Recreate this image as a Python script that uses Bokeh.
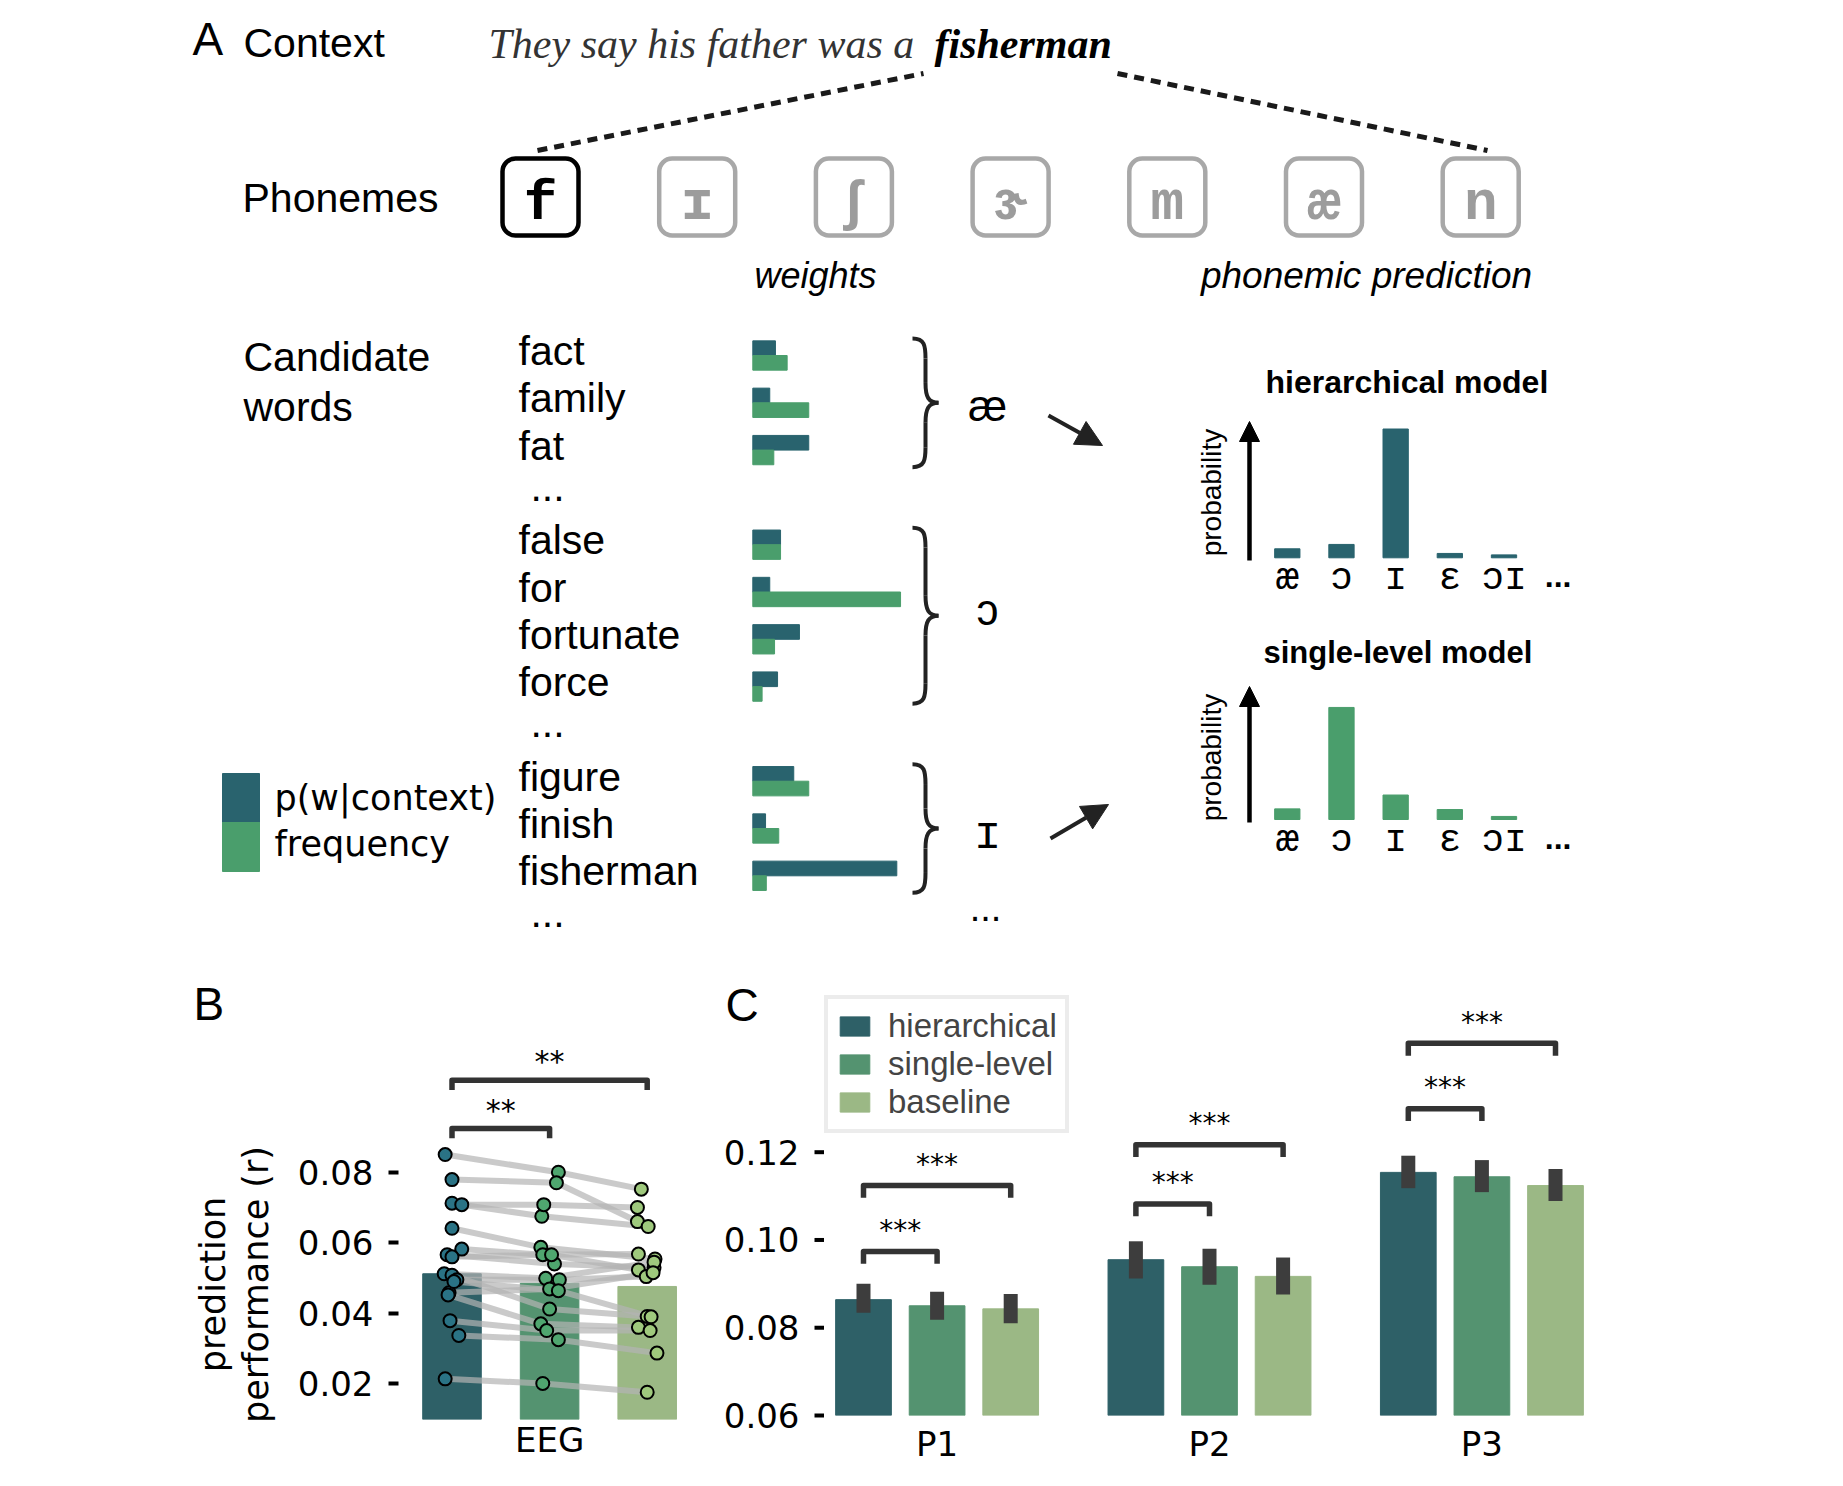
import math
from bokeh.plotting import figure
from bokeh.models import Range1d, Arrow, NormalHead, FixedTicker, PrintfTickFormatter
from bokeh.layouts import column, row
from bokeh.core.properties import value
from bokeh.embed import file_html
from bokeh.resources import INLINE

SANS = "Liberation Sans"
DV = "DejaVu Sans"
MONO = "Liberation Mono"
SERIF = "Liberation Serif"

# ---------------- data ----------------
sentence = "They say his father was a"
target_word = "fisherman"
phonemes = ["f", "ɪ", "ʃ", "ɝ", "m", "æ", "n"]
word_groups = [["fact", "family", "fat"],
               ["false", "for", "fortunate", "force"],
               ["figure", "finish", "fisherman"]]
group_phonemes = ["æ", "ɔ", "ɪ"]
w_context = [0.151, 0.113, 0.373, 0.185, 0.113, 0.311, 0.165, 0.273, 0.085, 0.960]
w_frequency = [0.229, 0.373, 0.140, 0.185, 0.985, 0.145, 0.062, 0.373, 0.173, 0.090]

pred_labels = ["æ", "ɔ", "ɪ", "ɛ", "ɔɪ"]
pred_hier = [0.056, 0.083, 0.800, 0.027, 0.018]
pred_single = [0.066, 0.696, 0.152, 0.062, 0.019]

models = ["hierarchical", "single-level", "baseline"]
eeg_means = [0.0512, 0.0485, 0.0476]
eeg_hier = [0.0850, 0.0779, 0.0712, 0.0708, 0.0641, 0.0582, 0.0566, 0.0560, 0.0512,
            0.0508, 0.0495, 0.0458, 0.0452, 0.0490, 0.0379, 0.0337, 0.0214]
eeg_single = [0.0800, 0.0770, 0.0675, 0.0708, 0.0587, 0.0566, 0.0540, 0.0566, 0.0499,
              0.0412, 0.0495, 0.0469, 0.0370, 0.0464, 0.0351, 0.0325, 0.0201]
eeg_base = [0.0752, 0.0660, 0.0646, 0.0700, 0.0554, 0.0568, 0.0530, 0.0523, 0.0545,
            0.0391, 0.0504, 0.0515, 0.0360, 0.0390, 0.0351, 0.0287, 0.0176]
jit_hier = [-0.07, 0.0, 0.0, 0.1, 0.0, 0.1, -0.05, 0.0, -0.08, 0.0, 0.05, -0.03, -0.04, 0.02, -0.02, 0.07, -0.07]
jit_single = [0.09, 0.07, -0.08, -0.06, -0.09, -0.07, 0.05, 0.02, -0.04, 0.0, 0.1, 0.0, -0.09, 0.09, -0.03, 0.09, -0.07]
jit_base = [-0.06, -0.1, 0.01, -0.1, 0.08, -0.09, 0.07, -0.09, 0.07, 0.0, -0.01, 0.06, -0.09, 0.04, 0.03, 0.1, 0.0]
eeg_sig_pairs = [(0, 1), (0, 2)]
eeg_sig_top = [0.0924, 0.1061]
eeg_sig_text = ["**", "**"]
eeg_ticks = [0.02, 0.04, 0.06, 0.08]

positions = ["P1", "P2", "P3"]
pos_hier = [0.0864, 0.0955, 0.1154]
pos_single = [0.0850, 0.0939, 0.1144]
pos_base = [0.0843, 0.0917, 0.1124]
pos_hier_lo = [0.0834, 0.0912, 0.1118]
pos_hier_hi = [0.0900, 0.0997, 0.1192]
pos_single_lo = [0.0818, 0.0898, 0.1109]
pos_single_hi = [0.0882, 0.0980, 0.1182]
pos_base_lo = [0.0810, 0.0876, 0.1089]
pos_base_hi = [0.0877, 0.0960, 0.1162]
pos_sig_top_single = [0.0974, 0.1082, 0.1299]
pos_sig_top_base = [0.1124, 0.1217, 0.1448]
pos_sig_text = "***"
pos_ticks = [0.06, 0.08, 0.10, 0.12]

# ---------------- colours ----------------
DARK = "#29636e"
GREEN = "#4a9e6c"
BAR_COL = ["#2e6067", "#549370", "#9bb885"]
PT_COL = ["#2a7385", "#4fa66f", "#9fc97d"]
GRAY_BOX = "#a8a8a8"
K = 0.35  # distance baseline -> middle of the em box, in em


def put(p, x, y, s, size, font=SANS, style="normal", align="left", base="middle",
        color="black", angle=0.0, **kw):
    xs = list(x) if isinstance(x, (list, tuple)) else [x]
    ys = list(y) if isinstance(y, (list, tuple)) else [y]
    ss = list(s) if isinstance(s, (list, tuple)) else [s]
    n = max(len(xs), len(ys), len(ss))
    xs = xs * n if len(xs) == 1 else xs
    ys = ys * n if len(ys) == 1 else ys
    ss = ss * n if len(ss) == 1 else ss
    return p.text(x=xs, y=ys, text=ss, text_font=value(font), text_font_size=value(size),
                  text_font_style=value(style), text_align=value(align),
                  text_baseline=value(base), text_color=color, angle=angle, **kw)


def putb(p, x, baseline, s, size, **kw):
    """place text by the page-pixel y of its baseline"""
    return put(p, x, baseline - K * size, s, f"{size}px", **kw)


def lin_range(v0, p0, v1, p1, a, b):
    s = (p1 - p0) / (v1 - v0)
    return Range1d(start=v0 + (a - p0) / s, end=v0 + (b - p0) / s)


def canvas(xa, xb, ya, yb):
    """plain drawing figure whose data coordinates are page pixels"""
    return figure(width=xb - xa, height=yb - ya, x_range=Range1d(xa, xb), y_range=Range1d(yb, ya),
                  x_axis_type=None, y_axis_type=None, toolbar_location=None,
                  output_backend="svg", min_border=0, outline_line_color=None)


# ================= Panel A =================
W, HA = 1835, 960
pA = canvas(0, W, 0, HA)
pA.extra_x_ranges = {
    "w": lin_range(0, 752.3, 1, 902.3, 0, W),
    "pidx": lin_range(0, 1286.8, 4, 1503.5, 0, W),
}
SLOT0, SLOTD = 355.0, 47.3
pA.extra_y_ranges = {
    "slot": lin_range(0, SLOT0, 1, SLOT0 + SLOTD, HA, 0),
    "ph": lin_range(0, 557.3, 1, 396.3, HA, 0),
    "ps": lin_range(0, 819, 1, 658, HA, 0),
}

putb(pA, 192, 55, "A", 46)
putb(pA, 243, 57, "Context", 41)
putb(pA, 488, 58, sentence, 42, font=SERIF, style="italic", color="#333333")
putb(pA, 934, 58, target_word, 42, font=SERIF, style="bold italic")
pA.line([537, 923], [150, 73], line_dash="10 7", line_width=5, line_color="#1a1a1a")
pA.line([1117, 1487], [73, 150], line_dash="10 7", line_width=5, line_color="#1a1a1a")

putb(pA, 242, 212, "Phonemes", 41)
box_x = [540 + i * 156.7 for i in range(len(phonemes))]
box_col = ["black"] + [GRAY_BOX] * (len(phonemes) - 1)
txt_col = ["black"] + ["#9c9c9c"] * (len(phonemes) - 1)
pA.rect(x=box_x, y=196.5, width=76, height=77, fill_color="white", line_color=box_col,
        line_width=4.5, border_radius=13)
pA.text(x=box_x, y=[203] * len(phonemes), text=phonemes, text_font=value(MONO),
        text_font_size=value("56px"), text_font_style=value("bold"), text_align=value("center"),
        text_baseline=value("middle"), text_color=txt_col)

putb(pA, 815, 288, "weights", 36, style="italic", align="center")
putb(pA, 1366, 288, "phonemic prediction", 37, style="italic", align="center")

putb(pA, 243, 371, "Candidate", 41)
putb(pA, 243, 421, "words", 41)

words, slots, dots = [], [], []
k = 0
for g in word_groups:
    for wd in g:
        words.append(wd)
        slots.append(k)
        k += 1
    dots.append(k)
    k += 1

put(pA, 518, [s - 0.092 for s in slots], words, "41px", y_range_name="slot")
put(pA, 547, [d - 0.22 for d in dots], "...", "41px", align="center", y_range_name="slot")

pA.hbar(y=[s - 0.155 for s in slots], height=0.31, left=0, right=w_context,
        color=DARK, x_range_name="w", y_range_name="slot")
pA.hbar(y=[s + 0.155 for s in slots], height=0.31, left=0, right=w_frequency,
        color=GREEN, x_range_name="w", y_range_name="slot")

# braces
bx0, by0, bx1, by1, bc0x, bc0y, bc1x, bc1y = [], [], [], [], [], [], [], []
x0, x1, x2, r = 912, 925, 938, 0.42
gi = 0
brace_mid = []
for g in word_groups:
    top = slots[gi] - 0.36
    bot = slots[gi + len(g) - 1] + 0.36
    gi += len(g)
    mid = (top + bot) / 2
    brace_mid.append(mid)
    segs = [
        (x0, top, x1, top + r, x1 - 1, top, x1, top + 0.35 * r),
        (x1, top + r, x1, mid - r, x1, top + r, x1, mid - r),
        (x1, mid - r, x2, mid, x1, mid - 0.3 * r, x1 + 3, mid),
        (x2, mid, x1, mid + r, x1 + 3, mid, x1, mid + 0.3 * r),
        (x1, mid + r, x1, bot - r, x1, mid + r, x1, bot - r),
        (x1, bot - r, x0, bot, x1, bot - 0.35 * r, x1 - 1, bot),
    ]
    for sgm in segs:
        bx0.append(sgm[0]); by0.append(sgm[1]); bx1.append(sgm[2]); by1.append(sgm[3])
        bc0x.append(sgm[4]); bc0y.append(sgm[5]); bc1x.append(sgm[6]); bc1y.append(sgm[7])
pA.bezier(x0=bx0, y0=by0, x1=bx1, y1=by1, cx0=bc0x, cy0=bc0y, cx1=bc1x, cy1=bc1y,
          line_width=4, line_color="#222222", y_range_name="slot")

put(pA, 987, [brace_mid[0] + 0.05, brace_mid[1] - 0.12], group_phonemes[:2], "44px",
    align="center", y_range_name="slot")
put(pA, 987, brace_mid[2] + 0.15, group_phonemes[2], "46px", font=MONO, align="center",
    y_range_name="slot")
put(pA, 985, dots[-1] - 0.32, "...", "38px", align="center", y_range_name="slot")

for (xs_, ys_, xe_, ye_) in [(1048, 415, 1102, 445), (1050, 838, 1108, 804)]:
    pA.add_layout(Arrow(x_start=xs_, y_start=ys_, x_end=xe_, y_end=ye_, line_width=4,
                        line_color="#222222",
                        end=NormalHead(size=26, fill_color="#222222", line_color="#222222")))

# legend of the weights
pA.rect(x=240.5, y=797.5, width=37, height=49, color=DARK)
pA.rect(x=240.5, y=846.5, width=37, height=49, color=GREEN)
putb(pA, 274, 810, "p(w|context)", 35, font=DV)
putb(pA, 274, 856, "frequency", 35, font=DV)

# prediction mini charts
idx = list(range(len(pred_labels)))
putb(pA, 1265, 392.7, "hierarchical model", 32, style="bold")
putb(pA, 1263, 663, "single-level model", 31, style="bold")
pA.vbar(x=idx, top=pred_hier, bottom=0, width=0.467, color=DARK,
        x_range_name="pidx", y_range_name="ph")
pA.vbar(x=idx, top=pred_single, bottom=0, width=0.467, color=GREEN,
        x_range_name="pidx", y_range_name="ps")
for rng in ["ph", "ps"]:
    put(pA, idx, -0.129, pred_labels, "38px", font=MONO, align="center",
        x_range_name="pidx", y_range_name=rng)
    put(pA, len(pred_labels), -0.115, "...", "32px", style="bold", align="center",
        x_range_name="pidx", y_range_name=rng)
for (yb, yt, yc) in [(560, 421, 492), (822, 686, 757)]:
    pA.add_layout(Arrow(x_start=1249, y_start=yb, x_end=1249, y_end=yt, line_width=4.5,
                        line_color="black",
                        end=NormalHead(size=20, fill_color="black", line_color="black")))
    put(pA, 1211, yc, "probability", "28px", align="center", angle=math.pi / 2)


# ================= axes styling =================
def style_y(p, ticks):
    p.grid.visible = False
    p.yaxis.ticker = FixedTicker(ticks=ticks)
    p.yaxis.formatter = PrintfTickFormatter(format="%.2f")
    for ax in p.yaxis:
        ax.axis_line_color = None
        ax.major_tick_out = 10
        ax.major_tick_in = 0
        ax.major_tick_line_width = 4
        ax.major_tick_line_color = "black"
        ax.minor_tick_line_color = None
        ax.major_label_text_font = DV
        ax.major_label_text_font_size = "34px"
        ax.major_label_text_color = "black"
        ax.major_label_standoff = 15


def style_x(p, ticks, labels, standoff):
    p.grid.visible = False
    p.xaxis.ticker = FixedTicker(ticks=ticks)
    p.xaxis.major_label_overrides = {t: lab for t, lab in zip(ticks, labels)}
    for ax in p.xaxis:
        ax.axis_line_color = None
        ax.major_tick_line_color = None
        ax.minor_tick_line_color = None
        ax.major_tick_out = 0
        ax.major_tick_in = 0
        ax.major_label_standoff = standoff
        ax.major_label_text_font = DV
        ax.major_label_text_font_size = "34px"
        ax.major_label_text_color = "black"


ROW_TOP, ROW_BOT = HA, 1484
RH = ROW_BOT - ROW_TOP

# ================= Panel B =================
pBlab = canvas(0, 290, ROW_TOP, ROW_BOT)
putb(pBlab, 193, 1020, "B", 46)
put(pBlab, 212, 1284, "prediction", "35px", font=DV, align="center", angle=math.pi / 2)
put(pBlab, 255, 1284, "performance (r)", "35px", font=DV, align="center", angle=math.pi / 2)

B_FL, B_FR, B_FT, B_FB = 398, 700, 985, 1419
pB = figure(width=700 - 290, height=RH,
            x_range=lin_range(0, 451.5, 1, 549.1, B_FL, B_FR),
            y_range=lin_range(0.02, 1383.3, 0.08, 1171.7, B_FB, B_FT),
            toolbar_location=None, output_backend="svg", min_border_left=B_FL - 290,
            min_border_right=0, min_border_top=B_FT - ROW_TOP, min_border_bottom=ROW_BOT - B_FB,
            outline_line_color=None)
style_y(pB, eeg_ticks)
style_x(pB, [1], ["EEG"], 0)

pB.vbar(x=[0, 1, 2], top=eeg_means, bottom=0, width=0.6, color=BAR_COL)
subj_x = [[0 + a, 1 + b, 2 + c] for a, b, c in zip(jit_hier, jit_single, jit_base)]
subj_y = [[a, b, c] for a, b, c in zip(eeg_hier, eeg_single, eeg_base)]
pB.multi_line(xs=subj_x, ys=subj_y, line_color="#b4b4b4", line_alpha=0.7, line_width=6)
for m, (vals, jit) in enumerate([(eeg_hier, jit_hier), (eeg_single, jit_single), (eeg_base, jit_base)]):
    pB.scatter(x=[m + j for j in jit], y=vals, size=13, fill_color=PT_COL[m],
               line_color="black", line_width=2)
br_x, br_y = [], []
for (a, b), top in zip(eeg_sig_pairs, eeg_sig_top):
    br_x.append([a, a, b, b])
    br_y.append([top - 0.0028, top, top, top - 0.0028])
pB.multi_line(xs=br_x, ys=br_y, line_color="#333333", line_width=5.5, line_join="round")
put(pB, [(a + b) / 2 for a, b in eeg_sig_pairs], [t + 0.0052 for t in eeg_sig_top],
    eeg_sig_text, "30px", font=DV, align="center")

# ================= Panel C =================
C_AX_L, C_FL, C_FR, C_FT, C_FB = 700, 824, 1600, 995, 1415
# left strip: panel letter and the value axis of panel C (same value->pixel mapping as pC)
pCleft = canvas(C_AX_L, C_FL, ROW_TOP, ROW_BOT)
pCleft.extra_y_ranges = {"cv": lin_range(0.06, 1415, 0.12, 1151.7, ROW_BOT, ROW_TOP)}
putb(pCleft, 725, 1021, "C", 46)
put(pCleft, 799, pos_ticks, ["%.2f" % t for t in pos_ticks], "34px", font=DV, align="right",
    y_range_name="cv")
pCleft.segment(x0=C_FL - 10, y0=pos_ticks, x1=C_FL, y1=pos_ticks, line_width=4,
               line_color="black", y_range_name="cv")

off = 0.2702
pC = figure(width=W - C_FL, height=RH,
            x_range=lin_range(0, 936.6, 1, 1209.0, C_FL, C_FR),
            y_range=lin_range(0.06, 1415, 0.12, 1151.7, C_FB, C_FT),
            y_axis_location=None, toolbar_location=None, output_backend="svg",
            min_border_left=0, min_border_right=W - C_FR, min_border_top=C_FT - ROW_TOP,
            min_border_bottom=ROW_BOT - C_FB, outline_line_color=None)
style_x(pC, [0, 1, 2], positions, 8)

gx = [0, 1, 2]
series = [(pos_hier, pos_hier_lo, pos_hier_hi), (pos_single, pos_single_lo, pos_single_hi),
          (pos_base, pos_base_lo, pos_base_hi)]
for m, (vals, lo, hi) in enumerate(series):
    xs = [g + (m - 1) * off for g in gx]
    pC.vbar(x=xs, top=vals, bottom=0, width=0.2045, color=BAR_COL[m], legend_label=models[m])
for m, (vals, lo, hi) in enumerate(series):
    xs = [g + (m - 1) * off for g in gx]
    pC.segment(x0=xs, y0=lo, x1=xs, y1=hi, line_width=14, line_color="#3d3d3d")

cb_x, cb_y, st_x, st_y = [], [], [], []
for g in gx:
    for (other, top) in [(0, pos_sig_top_single[g]), (1, pos_sig_top_base[g])]:
        a = g - off
        b = g + other * off
        cb_x.append([a, a, b, b])
        cb_y.append([top - 0.0028, top, top, top - 0.0028])
        st_x.append((a + b) / 2)
        st_y.append(top + 0.0048)
pC.multi_line(xs=cb_x, ys=cb_y, line_color="#333333", line_width=5.5, line_join="round")
put(pC, st_x, st_y, pos_sig_text, "28px", font=DV, align="center")

lg = pC.legend[0]
lg.location = "top_left"
lg.margin = 0
lg.padding = 8
lg.spacing = 0
lg.glyph_width = 37
lg.glyph_height = 24
lg.label_standoff = 15
lg.label_text_font = SANS
lg.label_text_font_size = "33px"
lg.border_line_color = "#d9d9d9"
lg.border_line_width = 4
lg.background_fill_color = "white"
lg.background_fill_alpha = 1.0

# each figure in its own column so that the row does not align their frames
layout = column(pA, row(column(pBlab), column(pB), column(pCleft), column(pC)))
open("out.html", "w").write(file_html(layout, INLINE))
